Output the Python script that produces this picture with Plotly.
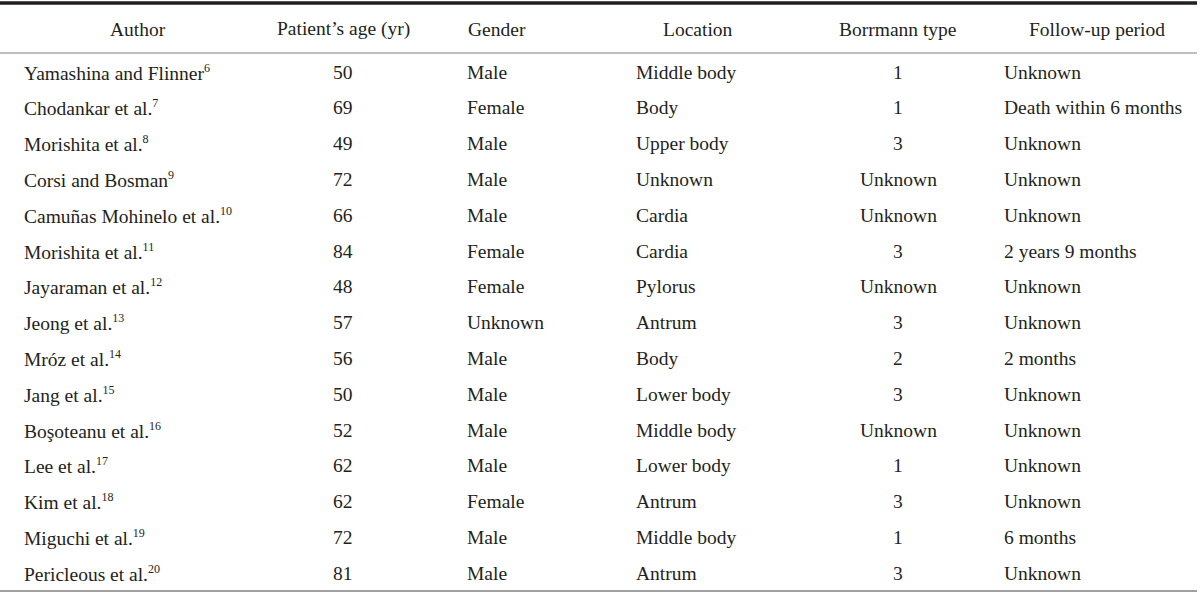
import plotly.graph_objects as go

headers = ["Author", "Patient\u2019s age (yr)", "Gender", "Location", "Borrmann type", "Follow-up period"]
authors = ["Yamashina and Flinner", "Chodankar et al.", "Morishita et al.", "Corsi and Bosman",
           "Camuñas Mohinelo et al.", "Morishita et al.", "Jayaraman et al.", "Jeong et al.",
           "Mróz et al.", "Jang et al.", "Boşoteanu et al.", "Lee et al.", "Kim et al.",
           "Miguchi et al.", "Pericleous et al."]
refs = [6, 7, 8, 9, 10, 11, 12, 13, 14, 15, 16, 17, 18, 19, 20]
ages = [50, 69, 49, 72, 66, 84, 48, 57, 56, 50, 52, 62, 62, 72, 81]
genders = ["Male", "Female", "Male", "Male", "Male", "Female", "Female", "Unknown",
           "Male", "Male", "Male", "Male", "Female", "Male", "Male"]
locations = ["Middle body", "Body", "Upper body", "Unknown", "Cardia", "Cardia", "Pylorus",
             "Antrum", "Body", "Lower body", "Middle body", "Lower body", "Antrum",
             "Middle body", "Antrum"]
borrmann = ["1", "1", "3", "Unknown", "Unknown", "3", "Unknown", "3", "2", "3", "Unknown",
            "1", "3", "1", "3"]
followup = ["Unknown", "Death within 6 months", "Unknown", "Unknown", "Unknown",
            "2 years 9 months", "Unknown", "Unknown", "2 months", "Unknown", "Unknown",
            "Unknown", "Unknown", "6 months", "Unknown"]

FONT = "Liberation Serif"
COLOR = "#231f20"
FS = 19.5

header_x = [138, 343, 497, 698, 898, 1097]
body_x = [22, 343, 465, 634, 898, 1002]
body_anchor = ["left", "center", "left", "left", "center", "left"]

fig = go.Figure()
fig.add_trace(go.Scatter(x=[0, 1200], y=[0, 594], mode="markers",
                         marker=dict(opacity=0), hoverinfo="skip", showlegend=False))

ann = []
for hx, h in zip(header_x, headers):
    ann.append(dict(x=hx, y=29, text=h, xanchor="center", yanchor="middle",
                    showarrow=False, font=dict(family=FONT, size=FS, color=COLOR)))

cols = [
    [f"{a}<sup><span style='font-size:12px'>{r}</span></sup>" for a, r in zip(authors, refs)],
    [str(a) for a in ages],
    genders, locations, borrmann, followup,
]
for i in range(len(authors)):
    y = 72 + i * 35.8
    for c, col in enumerate(cols):
        ann.append(dict(x=body_x[c], y=y, text=col[i], xanchor=body_anchor[c],
                        yanchor="middle", showarrow=False,
                        font=dict(family=FONT, size=FS, color=COLOR)))

shapes = [
    dict(type="line", x0=0, x1=1197, y0=3, y1=3, line=dict(color="#231f20", width=3.5)),
    dict(type="line", x0=0, x1=1197, y0=53, y1=53, line=dict(color="#808080", width=1.2)),
    dict(type="line", x0=0, x1=1197, y0=591, y1=591, line=dict(color="#808080", width=1.5)),
]

fig.update_layout(
    width=1200, height=594, margin=dict(l=0, r=0, t=0, b=0),
    paper_bgcolor="white", plot_bgcolor="white",
    xaxis=dict(range=[0, 1200], visible=False, fixedrange=True),
    yaxis=dict(range=[594, 0], visible=False, fixedrange=True),
    annotations=ann, shapes=shapes, showlegend=False,
)
fig.write_html("out.html", config={"displayModeBar": False},
               post_script="document.body.style.margin='0';document.body.style.overflow='hidden';")
